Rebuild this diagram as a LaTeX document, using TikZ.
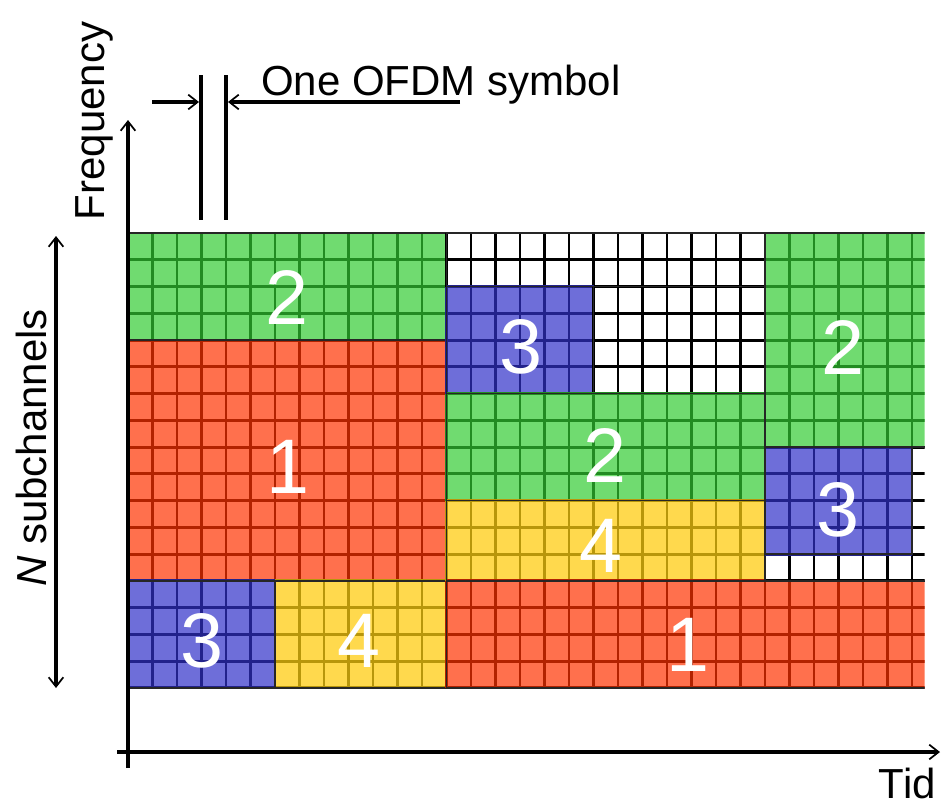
\documentclass[tikz,border=0pt]{standalone}
\usepackage{fontspec}
\setmainfont{Liberation Sans}
\usetikzlibrary{arrows.meta}
\definecolor{grnfill}{RGB}{112,219,112}
\definecolor{grnline}{RGB}{34,139,34}
\definecolor{redfill}{RGB}{255,112,77}
\definecolor{redline}{RGB}{178,34,0}
\definecolor{blufill}{RGB}{110,110,217}
\definecolor{bluline}{RGB}{34,34,139}
\definecolor{yelfill}{RGB}{255,217,77}
\definecolor{yelline}{RGB}{184,150,11}
\tikzset{
  lbl/.style={font=\fontsize{31.5}{36}\selectfont, inner sep=0pt},
  digit/.style={font=\fontsize{58}{60}\selectfont, text=white, inner sep=0pt},
  axisline/.style={line width=3.4pt},
  marker/.style={line width=3pt},
  barb/.style={-{Straight Barb[length=7pt,width=11pt,line width=1.3pt]}},
  dblbarb/.style={{Straight Barb[length=7pt,width=11pt,line width=1.3pt]}-{Straight Barb[length=7pt,width=11pt,line width=1.3pt]}},
}
% one block of resource cells: fill, cell-line colour, first column, first row, end column, end row
\newcommand\cellblock[6]{%
  \fill[#1] ({128+#3*24.5},{233+#4*26.76}) rectangle ({128+#5*24.5},{233+#6*26.76});
  \foreach \ci in {#3,...,#5}
    \draw[#2, line width=2.2pt] ({128+\ci*24.5},{233+#4*26.76}) -- ({128+\ci*24.5},{233+#6*26.76});
  \foreach \rj in {#4,...,#6}
    \draw[#2, line width=2.2pt] ({128+#3*24.5},{233+\rj*26.76}) -- ({128+#5*24.5},{233+\rj*26.76});
  \draw[black!85, line width=1.3pt] ({128+#3*24.5},{233+#4*26.76}) rectangle ({128+#5*24.5},{233+#6*26.76});
}
\begin{document}
\begin{tikzpicture}[x=0.75pt,y=-0.75pt]
\useasboundingbox (0,0) rectangle (941,807);

% time-frequency grid
\begin{scope}
  \clip (100,200) rectangle (924.5,700);
  \cellblock{grnfill}{grnline}{0}{0}{13}{4}
  \cellblock{redfill}{redline}{0}{4}{13}{13}
  \cellblock{blufill}{bluline}{0}{13}{6}{17}
  \cellblock{yelfill}{yelline}{6}{13}{13}{17}
  \cellblock{white}{black}{13}{0}{26}{2}
  \cellblock{blufill}{bluline}{13}{2}{19}{6}
  \cellblock{white}{black}{19}{2}{26}{6}
  \cellblock{grnfill}{grnline}{13}{6}{26}{10}
  \cellblock{yelfill}{yelline}{13}{10}{26}{13}
  \cellblock{redfill}{redline}{13}{13}{33}{17}
  \cellblock{grnfill}{grnline}{26}{0}{33}{8}
  \cellblock{white}{black}{26}{8}{33}{13}
  \cellblock{blufill}{bluline}{26}{8}{32}{12}
\end{scope}

% user numbers
\node[digit] (ga) at (287,297) {2};
\node[digit] (ra) at (288,467) {1};
\node[digit] (ba) at (521,347) {3};
\node[digit] (gb) at (843,347) {2};
\node[digit] (gc) at (605,455) {2};
\node[digit] (bb) at (838,510) {3};
\node[digit] (ya) at (601,546) {4};
\node[digit] (bc) at (202,641) {3};
\node[digit] (yb) at (359,641) {4};
\node[digit] (rb) at (688,645) {1};

% axes
\coordinate (yfoot) at (128,768);
\coordinate (ytop) at (128,120);
\coordinate (xfoot) at (117,752);
\coordinate (xend) at (940,752);
\draw[axisline, barb] (yfoot) -- (ytop);
\draw[axisline, barb] (xfoot) -- (xend);
\node[lbl, rotate=90, anchor=base] (freq) at (104,121) {Frequency};
\node[lbl, anchor=base east] (tid) at (936,798) {Tid};

% subchannel span
\coordinate (nstop) at (56,236);
\coordinate (nsbot) at (56,688);
\draw[line width=2.6pt, dblbarb] (nsbot) -- (nstop);
\node[lbl, rotate=90, anchor=base] (nsub) at (46,448) {\textit{N} subchannels};

% one OFDM symbol marker
\coordinate (ma) at (201,75);
\coordinate (mb) at (201,220);
\coordinate (mc) at (226,75);
\coordinate (md) at (226,220);
\draw[marker] (ma) -- (mb);
\draw[marker] (mc) -- (md);
\coordinate (la) at (152,102);
\coordinate (lb) at (199,102);
\coordinate (lc) at (460,102);
\coordinate (ld) at (228,102);
\draw[marker, barb] (la) -- (lb);
\draw[marker, barb] (lc) -- (ld);
\node[lbl, anchor=base west] (sym) at (261,95) {One OFDM symbol};
\end{tikzpicture}
\end{document}
